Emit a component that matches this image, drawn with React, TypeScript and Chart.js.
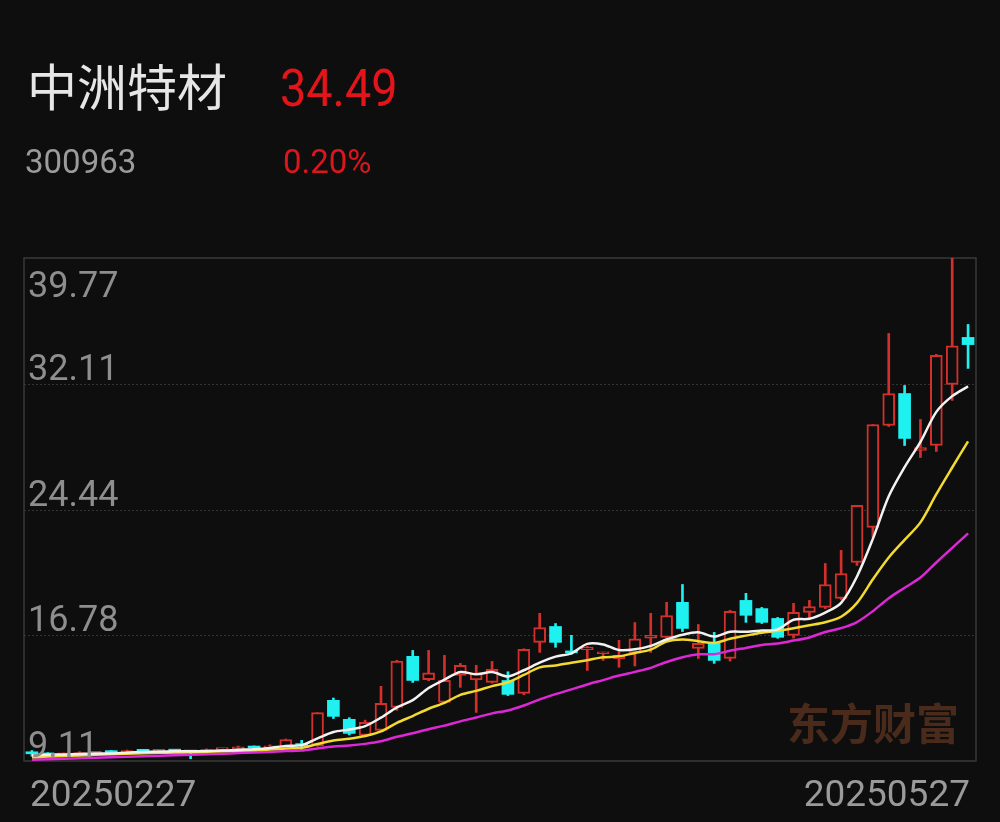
import React, { useEffect, useRef } from 'react';
import { Chart, registerables } from 'chart.js';

Chart.register(...registerables);

// ---- data ----
const dates = [
  '20250227', '20250228',
  '20250303', '20250304', '20250305', '20250306', '20250307',
  '20250310', '20250311', '20250312', '20250313', '20250314',
  '20250317', '20250318', '20250319', '20250320', '20250321',
  '20250324', '20250325', '20250326', '20250327', '20250328',
  '20250331', '20250401', '20250402', '20250403',
  '20250407', '20250408', '20250409', '20250410', '20250411',
  '20250414', '20250415', '20250416', '20250417', '20250418',
  '20250421', '20250422', '20250423', '20250424', '20250425',
  '20250428', '20250429', '20250430',
  '20250506', '20250507', '20250508', '20250509',
  '20250512', '20250513', '20250514', '20250515', '20250516',
  '20250519', '20250520', '20250521', '20250522', '20250523',
  '20250526', '20250527',
];

const opens = [
  9.62, 9.55, 9.48, 9.50, 9.58, 9.70, 9.62, 9.75, 9.70, 9.74,
  9.71, 9.66, 9.80, 9.82, 9.98, 9.90, 9.94, 10.12, 10.05, 12.81,
  11.65, 10.67, 10.98, 12.38, 15.49, 14.07, 12.68, 14.33, 14.05, 13.90,
  14.02, 13.23, 16.34, 17.31, 15.80, 15.90, 15.65, 15.35, 15.70, 16.60,
  16.65, 18.78, 15.97, 16.28, 15.36, 18.90, 18.40, 17.80, 16.77, 18.17,
  18.47, 19.02, 21.21, 23.35, 29.56, 31.51, 28.04, 28.34, 32.06, 34.93,
];
const highs = [
  9.75, 9.62, 9.60, 9.68, 9.66, 9.75, 9.78, 9.80, 9.78, 9.80,
  9.76, 9.85, 9.88, 10.02, 10.03, 10.10, 10.45, 10.37, 12.06, 12.95,
  11.75, 11.60, 13.66, 15.25, 15.85, 15.85, 15.55, 15.06, 14.94, 15.18,
  14.55, 15.95, 18.11, 17.49, 16.77, 16.10, 15.75, 16.47, 17.55, 18.11,
  18.78, 19.87, 17.43, 16.95, 18.30, 19.33, 18.47, 17.86, 18.72, 18.90,
  21.15, 21.95, 24.69, 29.62, 35.17, 32.00, 29.93, 33.90, 39.77, 35.72,
];
const lows = [
  9.40, 9.45, 9.42, 9.45, 9.50, 9.58, 9.58, 9.65, 9.62, 9.66,
  9.25, 9.62, 9.74, 9.78, 9.86, 9.86, 9.90, 9.76, 10.00, 11.70,
  10.70, 10.60, 10.90, 12.20, 13.90, 14.00, 12.60, 13.60, 12.07, 13.85,
  13.10, 13.15, 15.73, 16.04, 15.62, 14.63, 15.24, 14.82, 14.90, 15.73,
  16.60, 17.00, 15.36, 15.06, 15.20, 17.56, 17.49, 16.59, 16.60, 17.86,
  18.40, 18.95, 21.03, 22.74, 29.50, 28.34, 27.61, 27.98, 31.09, 33.04,
];
const closes = [
  9.55, 9.48, 9.52, 9.62, 9.63, 9.62, 9.72, 9.70, 9.74, 9.71,
  9.65, 9.80, 9.82, 9.98, 9.90, 10.04, 10.42, 10.05, 12.06, 11.83,
  10.79, 11.47, 12.62, 15.20, 14.02, 14.49, 14.02, 14.94, 14.49, 14.70,
  13.17, 15.91, 17.25, 16.34, 15.70, 16.05, 15.73, 15.55, 16.55, 16.77,
  17.98, 17.19, 16.28, 15.24, 18.23, 17.99, 17.56, 16.65, 18.17, 18.53,
  19.87, 20.54, 24.69, 29.62, 31.51, 28.77, 28.22, 33.83, 34.42, 34.49,
];
// closes of the sessions before the window (warm-up for the moving averages)
const priorCloses = [
  8.95, 8.98, 9.02, 8.97, 9.05, 9.08, 9.03, 9.10, 9.12, 9.08,
  9.15, 9.20, 9.25, 9.22, 9.30, 9.35, 9.42, 9.48, 9.52,
];
const maPeriods = [5, 10, 20];
const yTickValues = [9.11, 16.78, 24.44, 32.11, 39.77];
const xTickLabels = ['20250227', '20250527'];

const stockName = '中洲特材';
const stockCode = '300963';
const lastPrice = '34.49';
const changePct = '0.20%';

// ---- style ----
const BG = '#0e0e0e';
const UP = '#d3302b';
const DOWN = '#1ff0f0';
const MA_COLORS = ['#f2f2f2', '#f2da30', '#de27d6'];

function movingAverage(n: number): number[] {
  const all = [...priorCloses, ...closes];
  const off = priorCloses.length;
  return closes.map((_, i) => {
    const end = off + i;
    let s = 0;
    for (let k = end - n + 1; k <= end; k++) s += all[k];
    return s / n;
  });
}

const decorPlugin = {
  id: 'decor',
  beforeDatasetsDraw(chart: any) {
    const { ctx, chartArea, scales } = chart;
    const y = scales.y;
    ctx.save();
    // watermark
    ctx.font = 'bold 43px "Noto Sans CJK SC"';
    ctx.fillStyle = '#4a2b1b';
    ctx.textAlign = 'right';
    ctx.textBaseline = 'alphabetic';
    ctx.fillText('东方财富', chartArea.right - 17, chartArea.bottom - 21);
    // dotted grid lines
    ctx.strokeStyle = '#343434';
    ctx.lineWidth = 1;
    ctx.setLineDash([2, 2]);
    yTickValues.forEach((v) => {
      if (v === y.min || v === y.max) return;
      const py = Math.round(y.getPixelForValue(v)) + 0.5;
      ctx.beginPath();
      ctx.moveTo(chartArea.left, py);
      ctx.lineTo(chartArea.right, py);
      ctx.stroke();
    });
    ctx.setLineDash([]);
    // frame
    ctx.strokeStyle = '#3a3a3a';
    ctx.lineWidth = 1.5;
    ctx.strokeRect(chartArea.left, chartArea.top, chartArea.right - chartArea.left, chartArea.bottom - chartArea.top);
    ctx.restore();
  },
  afterDatasetsDraw(chart: any) {
    const { ctx, chartArea, scales } = chart;
    const y = scales.y;
    ctx.save();
    ctx.font = '36px Roboto';
    ctx.fillStyle = '#8e8e8e';
    ctx.textAlign = 'left';
    ctx.textBaseline = 'alphabetic';
    yTickValues.forEach((v) => {
      const py = y.getPixelForValue(v);
      const by = v === y.max ? py + 39 : py - 4;
      ctx.fillText(v.toFixed(2), chartArea.left + 4, by);
    });
    ctx.font = '37px Roboto';
    ctx.fillStyle = '#9a9a9a';
    ctx.textAlign = 'left';
    ctx.fillText(xTickLabels[0], chartArea.left + 6, chartArea.bottom + 45);
    ctx.textAlign = 'right';
    ctx.fillText(xTickLabels[1], chartArea.right - 6, chartArea.bottom + 45);
    ctx.restore();
  },
};

export default function App() {
  const canvasRef = useRef<HTMLCanvasElement | null>(null);

  useEffect(() => {
    if (!canvasRef.current) return;
    const isUp = closes.map((c, i) => c >= opens[i]);
    const chart = new Chart(canvasRef.current, {
      type: 'bar',
      data: {
        labels: dates,
        datasets: [
          {
            type: 'bar',
            label: 'wick',
            data: lows.map((l, i) => [l, highs[i]]),
            backgroundColor: isUp.map((u) => (u ? UP : DOWN)),
            borderWidth: 0,
            barThickness: 2,
            grouped: false,
            order: 3,
          } as any,
          {
            type: 'bar',
            label: 'body',
            data: opens.map((o, i) => [o, closes[i]]),
            backgroundColor: isUp.map((u) => (u ? BG : DOWN)),
            borderColor: isUp.map((u) => (u ? UP : DOWN)),
            borderWidth: isUp.map((u) => (u ? 2 : 0)),
            borderSkipped: false,
            barThickness: 12,
            minBarLength: 2,
            grouped: false,
            order: 2,
          } as any,
          ...maPeriods.map((n, k) => ({
            type: 'line',
            label: 'MA' + n,
            data: movingAverage(n),
            borderColor: MA_COLORS[k],
            borderWidth: 2.5,
            pointRadius: 0,
            tension: 0.3,
            fill: false,
            order: 1,
          } as any)),
        ],
      },
      options: {
        responsive: false,
        animation: false,
        devicePixelRatio: 1,
        layout: { padding: { left: 24, right: 24, top: 258, bottom: 61 } },
        plugins: { legend: { display: false }, tooltip: { enabled: false } },
        scales: {
          x: { type: 'category', offset: true, display: false },
          y: { type: 'linear', min: yTickValues[0], max: yTickValues[yTickValues.length - 1], display: false },
        },
      },
      plugins: [decorPlugin],
    });
    return () => chart.destroy();
  }, []);

  return (
    <div style={{ position: 'absolute', left: 0, top: 0, width: 1000, height: 822, background: BG, overflow: 'hidden' }}>
      <canvas ref={canvasRef} width={1000} height={822} style={{ position: 'absolute', left: 0, top: 0, width: 1000, height: 822 }} />
      <div style={{ position: 'absolute', left: 27, top: 59, fontSize: 50, lineHeight: '50px', color: '#e6e6e6', fontFamily: '"Noto Sans CJK SC", sans-serif', whiteSpace: 'nowrap' }}>{stockName}</div>
      <div style={{ position: 'absolute', left: 280, top: 63, fontSize: 52, lineHeight: '52px', color: '#e4141b', fontFamily: 'Roboto, sans-serif', transform: 'scaleX(0.9)', transformOrigin: 'left top', whiteSpace: 'nowrap' }}>{lastPrice}</div>
      <div style={{ position: 'absolute', left: 25, top: 145, fontSize: 33, lineHeight: '33px', color: '#9b9b9b', fontFamily: 'Roboto, sans-serif', whiteSpace: 'nowrap' }}>{stockCode}</div>
      <div style={{ position: 'absolute', left: 283, top: 145, fontSize: 33, lineHeight: '33px', color: '#dc161d', fontFamily: 'Roboto, sans-serif', whiteSpace: 'nowrap' }}>{changePct}</div>
    </div>
  );
}
